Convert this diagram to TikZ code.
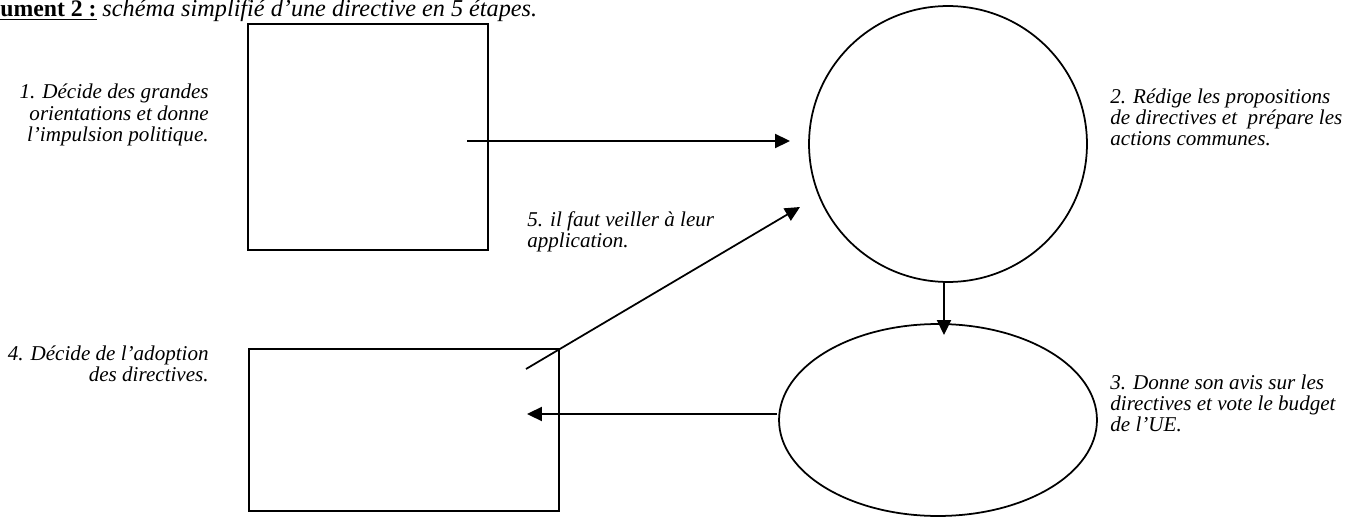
\documentclass[tikz,border=0pt]{standalone}
\usepackage{fontspec}
\setmainfont{Liberation Serif}
\usetikzlibrary{arrows.meta,shapes.geometric}
\tikzset{
  stage/.style={draw=black,line width=1pt,inner sep=0pt},
  sbox/.style={stage,rectangle},
  sround/.style={stage,ellipse},
  note/.style={font=\fontsize{12}{12}\selectfont\itshape,inner sep=0pt},
  ar/.style={-{Triangle[length=8.5pt,width=8pt]},line width=1pt},
}
\begin{document}
\begin{tikzpicture}[x=0.02cm,y=-0.02cm]
    \useasboundingbox (0,0) rectangle (1356,517);
    \node[note,font=\fontsize{13.5}{14}\selectfont,anchor=base west] (title) at (0,17)
         {\bfseries\underline{ument 2 :} \mdseries\itshape\fontsize{13.8}{15}\selectfont schéma simplifié d’une directive en 5 étapes.};
    \node[sbox,minimum width=4.8cm,minimum height=4.52cm] (cons) at (368,137) {};
    \node[sround,minimum width=5.56cm,minimum height=5.52cm] (comm) at (948,144) {};
    \node[sround,minimum width=6.36cm,minimum height=3.84cm] (parl) at (938,420) {};
    \node[sbox,minimum width=6.2cm,minimum height=3.24cm] (minis) at (404,430) {};
    \node[note,align=right,anchor=east] (t1) at (209,115)
         {1. Décide des grandes\\orientations et donne\\l’impulsion politique.};
    \node[note,align=left,anchor=west] (t2) at (1110,117)
         {2. Rédige les propositions\\de directives et~ prépare les\\actions communes.};
    \node[note,align=left,anchor=west] (t3) at (1110,403)
         {3. Donne son avis sur les\\directives et vote le budget\\de l’UE.};
    \node[note,align=right,anchor=east] (t4) at (209,364)
         {4. Décide de l’adoption\\des directives.};
    \node[note,align=left,anchor=west] (t5) at (527,232)
         {5. il faut veiller à leur\\application.};
    \coordinate (p1) at (467,141);
    \coordinate (q1) at (790,141);
    \coordinate (p2) at (944,282);
    \coordinate (q2) at (944,335);
    \coordinate (p3) at (777,414);
    \coordinate (q3) at (527,414);
    \coordinate (p4) at (526,369);
    \coordinate (q4) at (800,207);
    \draw[ar] (p1)--(q1);
    \draw[ar] (p2)--(q2);
    \draw[ar] (p3)--(q3);
    \draw[ar] (p4)--(q4);
  \end{tikzpicture}
\end{document}
